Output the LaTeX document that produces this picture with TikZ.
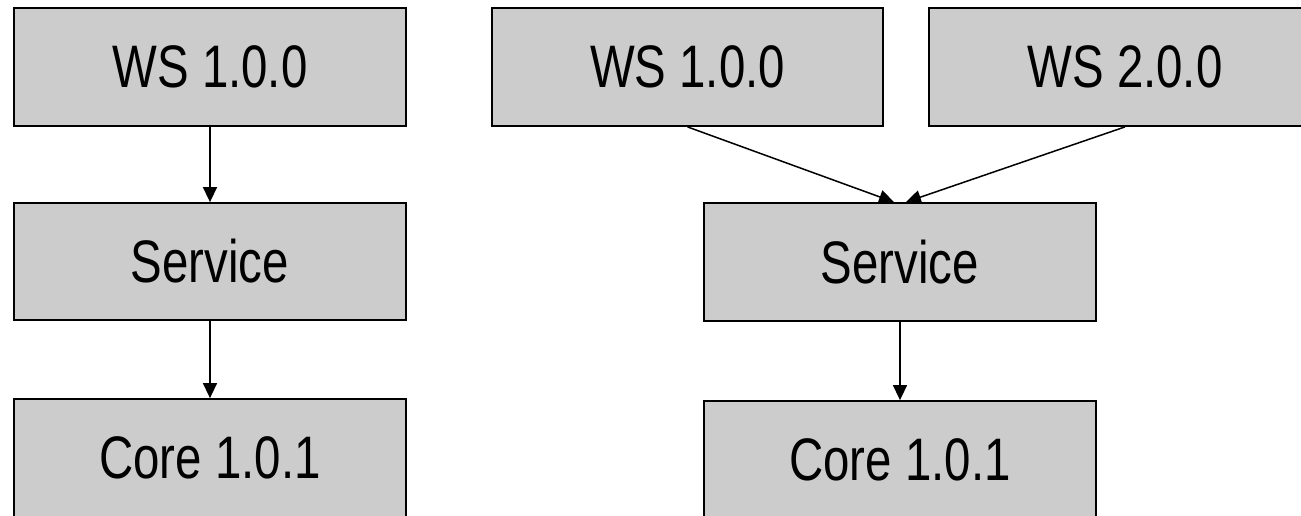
\documentclass[tikz,border=0pt]{standalone}
\usepackage{fontspec}
\setmainfont{Liberation Sans}[FakeStretch=0.79]
\usetikzlibrary{arrows.meta}
\begin{document}
\begin{tikzpicture}[x=1pt,y=1pt,
  box/.style={draw=black,line width=1.8pt,fill=boxgray,minimum width=392pt,minimum height=118pt,inner sep=0pt,font=\fontsize{60}{62}\selectfont},
  conn/.style={line width=1.5pt,-{Triangle[length=15pt,width=14pt]}}]
\definecolor{boxgray}{HTML}{CCCCCC}
\useasboundingbox (0,0) rectangle (1301,-515);
\clip (0,0) rectangle (1301,-515);
\node[box] (lws) at (210,-67) {WS 1.0.0};
\node[box,minimum height=117pt] (lsvc) at (210,-261.5) {Service};
\node[box] (lcore) at (210,-458) {Core 1.0.1};
\node[box,minimum width=391pt] (rws1) at (687.5,-67) {WS 1.0.0};
\node[box] (rws2) at (1125,-67) {WS 2.0.0};
\node[box] (rsvc) at (900,-262) {Service};
\node[box] (rcore) at (900,-460) {Core 1.0.1};
\draw[conn] (lws.south) -- (lsvc.north);
\draw[conn] (lsvc.south) -- (lcore.north);
\draw[conn] (rws1.south) -- ([xshift=-6pt]rsvc.north);
\draw[conn] (rws2.south) -- ([xshift=6pt]rsvc.north);
\draw[conn] (rsvc.south) -- (rcore.north);
\end{tikzpicture}
\end{document}
